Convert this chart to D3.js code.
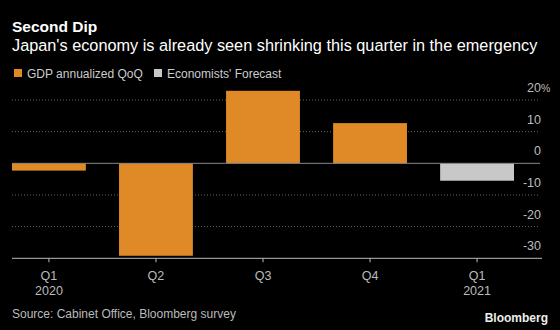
<!DOCTYPE html>
<html>
<head>
<meta charset="utf-8">
<script src="https://cdn.jsdelivr.net/npm/d3@7"></script>
<style>
  html, body { margin: 0; padding: 0; background: #000; }
  svg { display: block; font-family: "Liberation Sans", Arial, sans-serif; }
</style>
</head>
<body>
<div id="chart"></div>
<script>
const quarters = ["Q1", "Q2", "Q3", "Q4", "Q1"];
const years = ["2020", "", "", "", "2021"];
const gdpValues = [-2.3, -29.2, 22.9, 12.7, null];
const forecastValues = [null, null, null, null, -5.5];
const yTicks = [-30, -20, -10, 0, 10, 20];

const width = 560, height = 330;
const orange = "#df8a26", grey = "#c8c8c8";

const svg = d3.select("#chart").append("svg")
    .attr("width", width)
    .attr("height", height);

svg.append("rect").attr("width", width).attr("height", height).attr("fill", "#000");

// header
svg.append("text")
    .attr("x", 12).attr("y", 32)
    .attr("fill", "#fff")
    .attr("font-size", 15.5)
    .attr("font-weight", "bold")
    .text("Second Dip");

svg.append("text")
    .attr("x", 12).attr("y", 51)
    .attr("fill", "#fff")
    .attr("font-size", 16.3)
    .text("Japan's economy is already seen shrinking this quarter in the emergency");

const legend = [
  { label: "GDP annualized QoQ", color: orange, x: 14 },
  { label: "Economists' Forecast", color: grey, x: 154 }
];
const lg = svg.append("g").selectAll("g").data(legend).join("g")
    .attr("transform", d => `translate(${d.x},69)`);
lg.append("rect").attr("width", 8).attr("height", 8).attr("fill", d => d.color);
lg.append("text")
    .attr("x", 13).attr("y", 8.5)
    .attr("fill", "#ccc")
    .attr("font-size", 12)
    .text(d => d.label);

// scales
const idx = d3.range(quarters.length);
const x = d3.scaleBand()
    .domain(idx)
    .range([12, 514])
    .paddingInner(0.31)
    .paddingOuter(0);

const y = d3.scaleLinear()
    .domain([-30, 20])
    .range([258.3, 100]);

const plotRight = 541;

// gridlines
svg.append("g").selectAll("line")
    .data(yTicks.filter(d => d !== 0 && d !== -30))
    .join("line")
    .attr("x1", 12).attr("x2", plotRight - 1)
    .attr("y1", d => y(d)).attr("y2", d => y(d))
    .attr("stroke", "#666")
    .attr("stroke-width", 1)
    .attr("stroke-dasharray", "1,2");

// bars
svg.append("g").selectAll("rect")
    .data(idx.filter(i => gdpValues[i] != null))
    .join("rect")
    .attr("x", i => x(i))
    .attr("width", x.bandwidth())
    .attr("y", i => y(Math.max(0, gdpValues[i])))
    .attr("height", i => Math.abs(y(gdpValues[i]) - y(0)))
    .attr("fill", orange);

svg.append("g").selectAll("rect")
    .data(idx.filter(i => forecastValues[i] != null))
    .join("rect")
    .attr("x", i => x(i))
    .attr("width", x.bandwidth())
    .attr("y", i => y(Math.max(0, forecastValues[i])))
    .attr("height", i => Math.abs(y(forecastValues[i]) - y(0)))
    .attr("fill", grey);

// zero line
svg.append("line")
    .attr("x1", 12).attr("x2", plotRight - 1)
    .attr("y1", y(0)).attr("y2", y(0))
    .attr("stroke", "#888");

// y labels, above their gridlines
const yl = svg.append("g").attr("fill", "#bbb").attr("font-size", 12.5);
yl.selectAll("text").data(yTicks).join("text")
    .attr("x", plotRight)
    .attr("y", d => y(d) - 8)
    .attr("text-anchor", "end")
    .text(d => d < 0 ? "-" + Math.abs(d) : d);
yl.append("text")
    .attr("x", plotRight)
    .attr("y", y(d3.max(yTicks)) - 8)
    .attr("font-size", 10.5)
    .text("%");

// x axis
const xAxis = svg.append("g")
    .attr("transform", `translate(0,${y(-30)})`);
xAxis.append("line")
    .attr("x1", 12).attr("x2", 542)
    .attr("stroke", "#bbb");
const tk = xAxis.selectAll("g.tick").data(idx).join("g")
    .attr("class", "tick")
    .attr("transform", i => `translate(${x(i) + x.bandwidth() / 2},0)`);
tk.append("line").attr("y1", 0).attr("y2", 4).attr("stroke", "#bbb");
tk.append("text")
    .attr("y", 22).attr("text-anchor", "middle")
    .attr("fill", "#bbb").attr("font-size", 12.5)
    .text(i => quarters[i]);
tk.append("text")
    .attr("y", 37).attr("text-anchor", "middle")
    .attr("fill", "#bbb").attr("font-size", 12.5)
    .text(i => years[i]);

// footer
svg.append("text")
    .attr("x", 12).attr("y", 318)
    .attr("fill", "#bbb")
    .attr("font-size", 12)
    .text("Source: Cabinet Office, Bloomberg survey");

svg.append("text")
    .attr("x", 548).attr("y", 322)
    .attr("text-anchor", "end")
    .attr("fill", "#eee")
    .attr("font-size", 12)
    .attr("font-weight", "bold")
    .text("Bloomberg");
</script>
</body>
</html>
